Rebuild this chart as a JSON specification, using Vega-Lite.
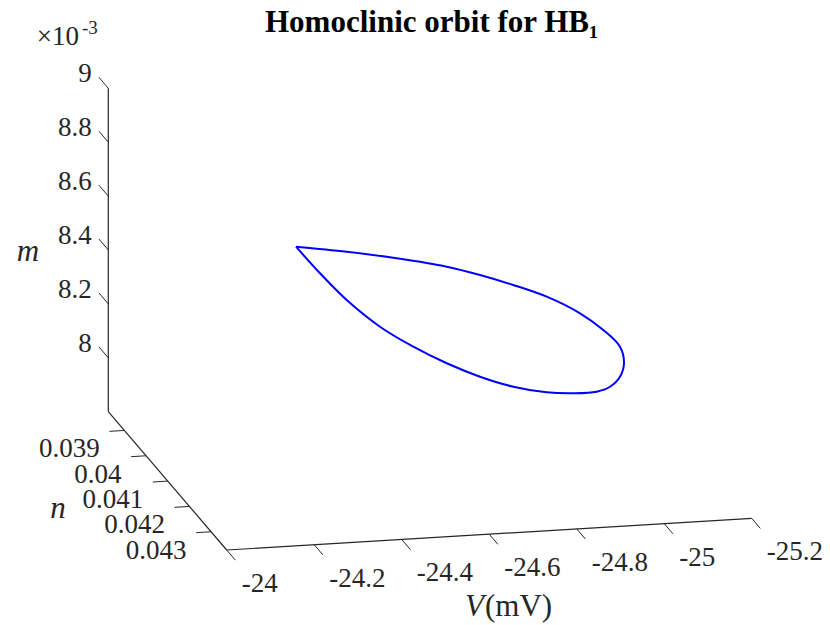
{
  "$schema": "https://vega.github.io/schema/vega-lite/v6.json",
  "width": 830,
  "height": 625,
  "autosize": {"type": "none"},
  "padding": 0,
  "background": "white",
  "config": {"view": {"stroke": null}},
  "title": {
    "text": "Homoclinic orbit for HB₁",
    "anchor": "start",
    "frame": "group",
    "orient": "top",
    "offset": -63,
    "dx": 265,
    "baseline": "alphabetic",
    "font": "'Liberation Serif', 'Times New Roman', serif",
    "fontSize": 31,
    "fontWeight": "bold",
    "color": "#000000"
  },
  "data": {
    "values": [
      {"kind": "axis", "V": -24, "n": 0.03826, "m": 0.0078, "V2": -24, "n2": 0.03826, "m2": 0.009},
      {"kind": "axis", "V": -24, "n": 0.03826, "m": 0.0078, "V2": -24, "n2": 0.04372, "m2": 0.0078},
      {"kind": "axis", "V": -24, "n": 0.04372, "m": 0.0078, "V2": -25.2, "n2": 0.04372, "m2": 0.0078},

      {"kind": "tickV", "label": "-24", "V": -24, "n": 0.04372, "m": 0.0078, "V2": -24, "n2": 0.04412, "m2": 0.0078},
      {"kind": "tickV", "label": "-24.2", "V": -24.2, "n": 0.04372, "m": 0.0078, "V2": -24.2, "n2": 0.04412, "m2": 0.0078},
      {"kind": "tickV", "label": "-24.4", "V": -24.4, "n": 0.04372, "m": 0.0078, "V2": -24.4, "n2": 0.04412, "m2": 0.0078},
      {"kind": "tickV", "label": "-24.6", "V": -24.6, "n": 0.04372, "m": 0.0078, "V2": -24.6, "n2": 0.04412, "m2": 0.0078},
      {"kind": "tickV", "label": "-24.8", "V": -24.8, "n": 0.04372, "m": 0.0078, "V2": -24.8, "n2": 0.04412, "m2": 0.0078},
      {"kind": "tickV", "label": "-25", "V": -25, "n": 0.04372, "m": 0.0078, "V2": -25, "n2": 0.04412, "m2": 0.0078},
      {"kind": "tickV", "label": "-25.2", "V": -25.2, "n": 0.04372, "m": 0.0078, "V2": -25.2, "n2": 0.04412, "m2": 0.0078},

      {"kind": "tickN", "label": "0.039", "V": -24, "n": 0.039, "m": 0.0078, "V2": -23.966, "n2": 0.039, "m2": 0.0078},
      {"kind": "tickN", "label": "0.04", "V": -24, "n": 0.040, "m": 0.0078, "V2": -23.966, "n2": 0.040, "m2": 0.0078},
      {"kind": "tickN", "label": "0.041", "V": -24, "n": 0.041, "m": 0.0078, "V2": -23.966, "n2": 0.041, "m2": 0.0078},
      {"kind": "tickN", "label": "0.042", "V": -24, "n": 0.042, "m": 0.0078, "V2": -23.966, "n2": 0.042, "m2": 0.0078},
      {"kind": "tickN", "label": "0.043", "V": -24, "n": 0.043, "m": 0.0078, "V2": -23.966, "n2": 0.043, "m2": 0.0078},

      {"kind": "tickM", "label": "8", "V": -24, "n": 0.03826, "m": 0.0080, "V2": -24, "n2": 0.03783, "m2": 0.0080},
      {"kind": "tickM", "label": "8.2", "V": -24, "n": 0.03826, "m": 0.0082, "V2": -24, "n2": 0.03783, "m2": 0.0082},
      {"kind": "tickM", "label": "8.4", "V": -24, "n": 0.03826, "m": 0.0084, "V2": -24, "n2": 0.03783, "m2": 0.0084},
      {"kind": "tickM", "label": "8.6", "V": -24, "n": 0.03826, "m": 0.0086, "V2": -24, "n2": 0.03783, "m2": 0.0086},
      {"kind": "tickM", "label": "8.8", "V": -24, "n": 0.03826, "m": 0.0088, "V2": -24, "n2": 0.03783, "m2": 0.0088},
      {"kind": "tickM", "label": "9", "V": -24, "n": 0.03826, "m": 0.0090, "V2": -24, "n2": 0.03783, "m2": 0.0090},

      {"kind": "expBase", "label": "×10", "V": -24, "n": 0.03826, "m": 0.009},
      {"kind": "expPow", "label": "-3", "V": -24, "n": 0.03826, "m": 0.009},
      {"kind": "titleVi", "label": "V", "V": -24.6, "n": 0.04372, "m": 0.0078},
      {"kind": "titleVu", "label": "(mV)", "V": -24.6, "n": 0.04372, "m": 0.0078},
      {"kind": "titleN", "label": "n", "V": -24, "n": 0.041, "m": 0.0078},
      {"kind": "titleM", "label": "m", "V": -24, "n": 0.03826, "m": 0.0084},

      {"kind": "orbit", "i": 0, "V": -24.2932, "n": 0.041, "m": 0.0086410},
      {"kind": "orbit", "i": 1, "V": -24.4091, "n": 0.041, "m": 0.0086111},
      {"kind": "orbit", "i": 2, "V": -24.5234, "n": 0.041, "m": 0.0085754},
      {"kind": "orbit", "i": 3, "V": -24.6377, "n": 0.041, "m": 0.0085331},
      {"kind": "orbit", "i": 4, "V": -24.7138, "n": 0.041, "m": 0.0084948},
      {"kind": "orbit", "i": 5, "V": -24.7899, "n": 0.041, "m": 0.0084503},
      {"kind": "orbit", "i": 6, "V": -24.8662, "n": 0.041, "m": 0.0083994},
      {"kind": "orbit", "i": 7, "V": -24.9424, "n": 0.041, "m": 0.0083303},
      {"kind": "orbit", "i": 8, "V": -24.9956, "n": 0.041, "m": 0.0082632},
      {"kind": "orbit", "i": 9, "V": -25.0338, "n": 0.041, "m": 0.0081974},
      {"kind": "orbit", "i": 10, "V": -25.0429, "n": 0.041, "m": 0.0081349},
      {"kind": "orbit", "i": 11, "V": -25.0338, "n": 0.041, "m": 0.0080861},
      {"kind": "orbit", "i": 12, "V": -25.0109, "n": 0.041, "m": 0.0080512},
      {"kind": "orbit", "i": 13, "V": -24.9805, "n": 0.041, "m": 0.0080357},
      {"kind": "orbit", "i": 14, "V": -24.9270, "n": 0.041, "m": 0.0080350},
      {"kind": "orbit", "i": 15, "V": -24.8662, "n": 0.041, "m": 0.0080446},
      {"kind": "orbit", "i": 16, "V": -24.7899, "n": 0.041, "m": 0.0080729},
      {"kind": "orbit", "i": 17, "V": -24.7138, "n": 0.041, "m": 0.0081175},
      {"kind": "orbit", "i": 18, "V": -24.6377, "n": 0.041, "m": 0.0081747},
      {"kind": "orbit", "i": 19, "V": -24.5613, "n": 0.041, "m": 0.0082437},
      {"kind": "orbit", "i": 20, "V": -24.4852, "n": 0.041, "m": 0.0083254},
      {"kind": "orbit", "i": 21, "V": -24.4091, "n": 0.041, "m": 0.0084319},
      {"kind": "orbit", "i": 22, "V": -24.3481, "n": 0.041, "m": 0.0085370},
      {"kind": "orbit", "i": 23, "V": -24.2932, "n": 0.041, "m": 0.0086410}
    ]
  },
  "transform": [
    {"calculate": "226.7 - 437.5*(datum.V+24) + 21685*(datum.n-0.04372)", "as": "px"},
    {"calculate": "550 + 26.4*(datum.V+24) + 25330*(datum.n-0.04372) - 269500*(datum.m-0.0078)", "as": "py"},
    {"calculate": "226.7 - 437.5*(datum.V2+24) + 21685*(datum.n2-0.04372)", "as": "px2"},
    {"calculate": "550 + 26.4*(datum.V2+24) + 25330*(datum.n2-0.04372) - 269500*(datum.m2-0.0078)", "as": "py2"}
  ],
  "encoding": {
    "x": {"field": "px", "type": "quantitative", "scale": {"domain": [0, 830], "nice": false, "zero": false}, "axis": null},
    "y": {"field": "py", "type": "quantitative", "scale": {"domain": [0, 625], "reverse": true, "nice": false, "zero": false}, "axis": null}
  },
  "layer": [
    {
      "transform": [{"filter": "datum.kind == 'axis'"}],
      "mark": {"type": "rule", "color": "#262626", "strokeWidth": 1.2},
      "encoding": {"x2": {"field": "px2"}, "y2": {"field": "py2"}}
    },
    {
      "transform": [{"filter": "indexof(['tickV','tickN','tickM'], datum.kind) >= 0"}],
      "mark": {"type": "rule", "color": "#262626", "strokeWidth": 1},
      "encoding": {"x2": {"field": "px2"}, "y2": {"field": "py2"}}
    },
    {
      "transform": [{"filter": "datum.kind == 'tickV'"}],
      "mark": {"type": "text", "align": "left", "baseline": "middle", "dx": 15, "dy": 34, "font": "'Liberation Serif', 'Times New Roman', serif", "fontSize": 27, "color": "#262626"},
      "encoding": {"text": {"field": "label"}}
    },
    {
      "transform": [{"filter": "datum.kind == 'tickN'"}],
      "mark": {"type": "text", "align": "right", "baseline": "middle", "dx": -24.5, "dy": 19, "font": "'Liberation Serif', 'Times New Roman', serif", "fontSize": 27, "color": "#262626"},
      "encoding": {"text": {"field": "label"}}
    },
    {
      "transform": [{"filter": "datum.kind == 'tickM'"}],
      "mark": {"type": "text", "align": "right", "baseline": "middle", "dx": -16.6, "dy": -14, "font": "'Liberation Serif', 'Times New Roman', serif", "fontSize": 27, "color": "#262626"},
      "encoding": {"text": {"field": "label"}}
    },
    {
      "transform": [{"filter": "datum.kind == 'expBase'"}],
      "mark": {"type": "text", "align": "left", "baseline": "middle", "dx": -71.6, "dy": -51.6, "font": "'Liberation Serif', 'Times New Roman', serif", "fontSize": 27, "color": "#262626"},
      "encoding": {"text": {"field": "label"}}
    },
    {
      "transform": [{"filter": "datum.kind == 'expPow'"}],
      "mark": {"type": "text", "align": "left", "baseline": "middle", "dx": -26.3, "dy": -60.3, "font": "'Liberation Serif', 'Times New Roman', serif", "fontSize": 19, "color": "#262626"},
      "encoding": {"text": {"field": "label"}}
    },
    {
      "transform": [{"filter": "datum.kind == 'titleVi'"}],
      "mark": {"type": "text", "align": "left", "baseline": "middle", "dx": -24.2, "dy": 72.8, "font": "'Liberation Serif', 'Times New Roman', serif", "fontSize": 31, "fontStyle": "italic", "color": "#262626"},
      "encoding": {"text": {"field": "label"}}
    },
    {
      "transform": [{"filter": "datum.kind == 'titleVu'"}],
      "mark": {"type": "text", "align": "left", "baseline": "middle", "dx": -4.2, "dy": 72.8, "font": "'Liberation Serif', 'Times New Roman', serif", "fontSize": 31, "color": "#262626"},
      "encoding": {"text": {"field": "label"}}
    },
    {
      "transform": [{"filter": "datum.kind == 'titleN'"}],
      "mark": {"type": "text", "align": "center", "baseline": "middle", "dx": -109.7, "dy": 28, "font": "'Liberation Serif', 'Times New Roman', serif", "fontSize": 31, "fontStyle": "italic", "color": "#262626"},
      "encoding": {"text": {"field": "label"}}
    },
    {
      "transform": [{"filter": "datum.kind == 'titleM'"}],
      "mark": {"type": "text", "align": "center", "baseline": "middle", "dx": -80.3, "dy": 2, "font": "'Liberation Serif', 'Times New Roman', serif", "fontSize": 31, "fontStyle": "italic", "color": "#262626"},
      "encoding": {"text": {"field": "label"}}
    },
    {
      "transform": [{"filter": "datum.kind == 'orbit'"}],
      "mark": {"type": "line", "color": "#0000FF", "strokeWidth": 2, "interpolate": "catmull-rom"},
      "encoding": {"order": {"field": "i", "type": "quantitative"}}
    }
  ]
}
